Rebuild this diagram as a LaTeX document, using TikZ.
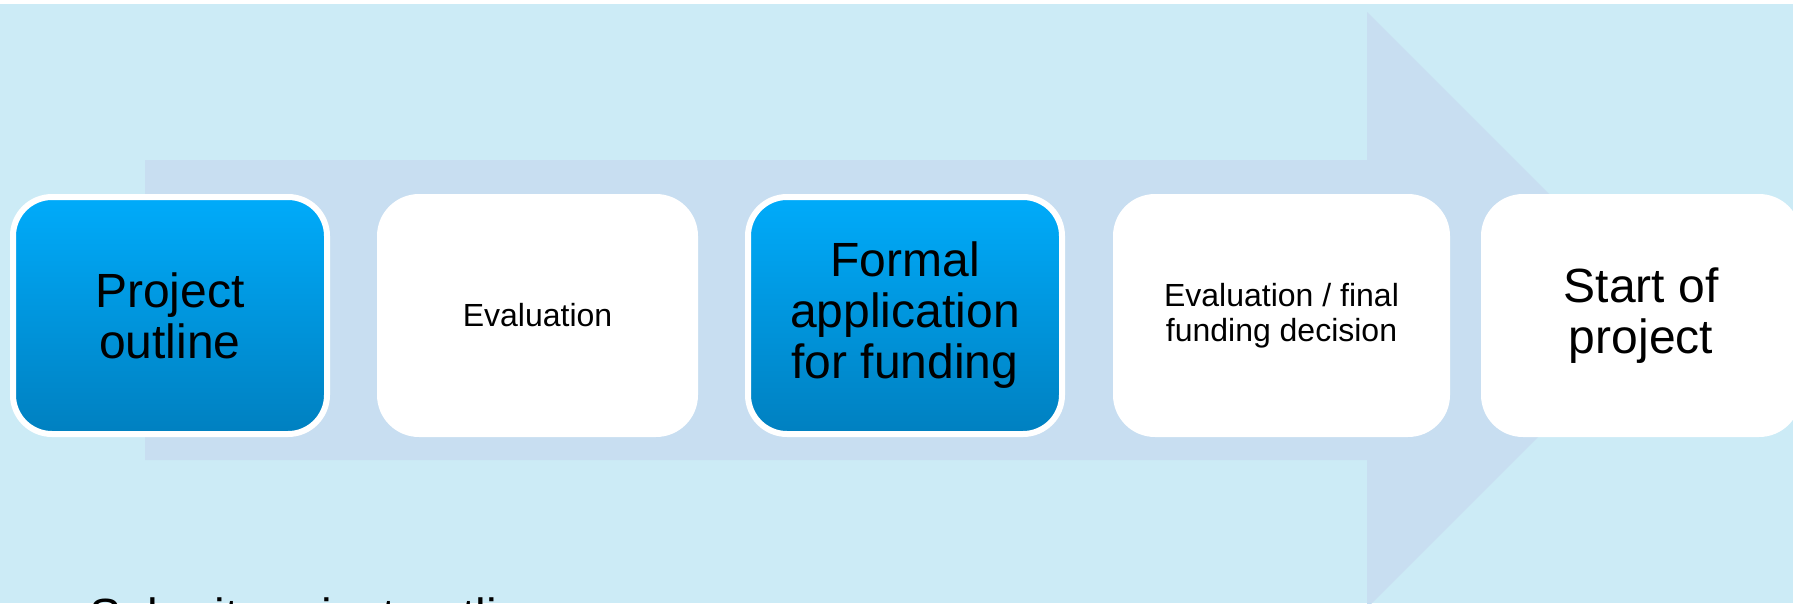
\documentclass[tikz,border=0pt]{standalone}
\usepackage{fontspec}
\setmainfont{Liberation Sans}

\definecolor{fondo}{RGB}{204,235,246}
\definecolor{flecha}{RGB}{200,222,241}
\definecolor{azularriba}{RGB}{0,171,250}
\definecolor{azulabajo}{RGB}{0,128,192}

\tikzset{
  pasoazul/.style={rectangle, rounded corners=39pt, draw=white, line width=6pt,
    top color=azularriba, bottom color=azulabajo,
    minimum width=314pt, minimum height=237pt, inner sep=0pt, align=center,
    font=\fontsize{48}{51}\selectfont},
  pasoblanco/.style={rectangle, rounded corners=42pt, fill=white,
    minimum height=243pt, inner sep=0pt, align=center},
  textogrande/.style={font=\fontsize{48}{51}\selectfont},
  textochico/.style={font=\fontsize{32}{35}\selectfont}
}

\begin{document}
\begin{tikzpicture}[x=1pt, y=-1pt]
    \useasboundingbox (0,0) rectangle (1793,603);
    \clip (0,0) rectangle (1793,603);

    % Fondo
    \fill[fondo] (0,4) rectangle (1793,603);

    % Flecha grande
    \fill[flecha] (145,160) -- (1367,160) -- (1367,12) -- (1665,310)
        -- (1367,608) -- (1367,460) -- (145,460) -- cycle;

    % Pasos
    \node[pasoazul] (outline) at (170,315.5) {Project\\outline};
    \node[pasoblanco, textochico, minimum width=321pt] (evaluacion) at (537.5,315.5) {Evaluation};
    \node[pasoazul] (formal) at (905,315.5) {Formal\\application\\for funding};
    \node[pasoblanco, textochico, minimum width=337pt] (decision) at (1281.5,315.5) {Evaluation / final\\funding decision};
    \node[pasoblanco, textogrande, minimum width=320pt] (inicio) at (1641,315.5) {Start of\\project};

    % Texto inferior
    \node[textogrande, anchor=base west, inner sep=0pt] (envio) at (89,632) {Submit project outline};
\end{tikzpicture}
\end{document}
